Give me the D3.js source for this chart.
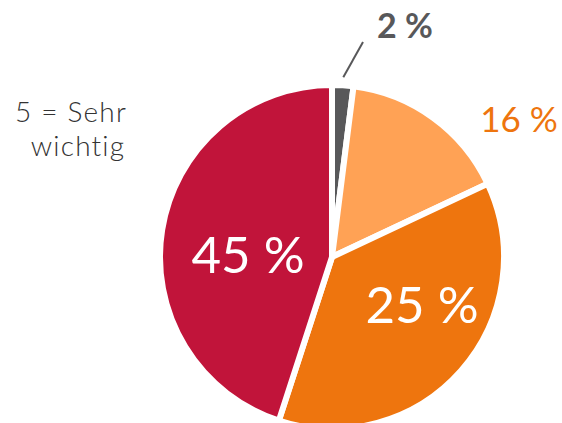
<!DOCTYPE html>
<html>
<head>
<meta charset="utf-8">
<script src="https://cdn.jsdelivr.net/npm/d3@7"></script>
<style>
  body { margin: 0; background: #fff; }
  text { font-family: Lato, "Open Sans", sans-serif; }
</style>
</head>
<body>
<div id="chart"></div>
<script>
// shares, labels as printed on the chart
const categories = ["1", "2", "3", "5"]
const shares = [2, 16, 37, 45]
const labels = ["2 %", "16 %", "25 %", "45 %"]
const colors = ["#58585a", "#ffa255", "#ee750e", "#c1143a"]
const noteLines = ["5 = Sehr", "wichtig"]

const width = 562, height = 423
const cx = 332, cy = 257, r = 172

const svg = d3.select("#chart").append("svg")
    .attr("width", width)
    .attr("height", height)

const pie = d3.pie().sort(null).value(d => d.value)
const arcs = pie(shares.map((v, i) => ({ value: v, label: labels[i], color: colors[i], cat: categories[i] })))

const arc = d3.arc().innerRadius(0).outerRadius(r)

const g = svg.append("g").attr("transform", `translate(${cx},${cy})`)

g.selectAll(".slice")
    .data(arcs)
    .join("path")
    .attr("class", "slice")
    .attr("d", arc)
    .attr("fill", d => d.data.color)
    .attr("stroke", "white")
    .attr("stroke-width", 6)
    .attr("stroke-linejoin", "miter")

// label placement (relative to the pie centre)
const labelPos = [
    { x: 73, y: -219, size: 34, weight: 700, fill: "#58585a" },
    { x: 187, y: -125, size: 35, weight: 400, fill: "#ee750e" },
    { x: 90, y: 66, size: 51, weight: 400, fill: "#ffffff" },
    { x: -84, y: 16, size: 51, weight: 400, fill: "#ffffff" }
]

g.selectAll(".lbl")
    .data(arcs)
    .join("text")
    .attr("class", "lbl")
    .attr("x", (d, i) => labelPos[i].x)
    .attr("y", (d, i) => labelPos[i].y)
    .attr("text-anchor", "middle")
    .attr("font-size", (d, i) => labelPos[i].size)
    .attr("font-weight", (d, i) => labelPos[i].weight)
    .attr("fill", (d, i) => labelPos[i].fill)
    .text(d => d.data.label)

// leader line for the small slice
const a0 = (arcs[0].startAngle + arcs[0].endAngle) / 2
g.append("line")
    .attr("x1", Math.sin(a0) * (r + 8))
    .attr("y1", -Math.cos(a0) * (r + 8))
    .attr("x2", 31)
    .attr("y2", -215)
    .attr("stroke", "#58585a")
    .attr("stroke-width", 2)

// category note on the left
svg.selectAll(".note")
    .data(noteLines)
    .join("text")
    .attr("class", "note")
    .attr("x", (d, i) => i == 0 ? 71 : 78)
    .attr("y", (d, i) => 122 + i * 34)
    .attr("font-size", 28)
    .attr("font-weight", 300)
    .attr("letter-spacing", 1.2)
    .attr("fill", "#333")
    .attr("text-anchor", "middle")
    .text(d => d)
</script>
</body>
</html>
